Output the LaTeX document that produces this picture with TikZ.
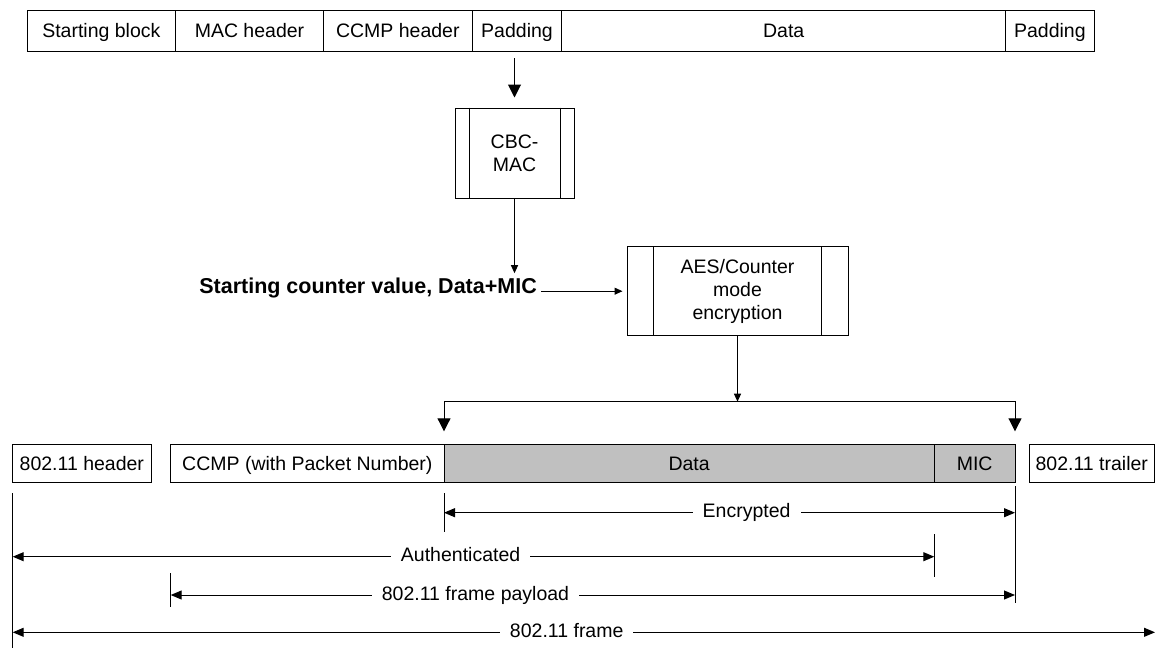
\documentclass[tikz,border=0pt]{standalone}
\usepackage{fontspec}
\setmainfont{Liberation Sans}
\usetikzlibrary{arrows.meta}
\definecolor{grisclair}{RGB}{192,192,192}

\begin{document}
\begin{tikzpicture}[x=1pt,y=-1pt]

% définition des styles
\tikzstyle{bloc}=[draw,rectangle,line width=1pt,inner sep=0pt,outer sep=0pt,anchor=west,minimum height=41pt,text height=14pt,text depth=0pt,font=\fontsize{19.5}{23}\selectfont]
\tikzstyle{case}=[bloc,minimum height=38pt]
\tikzstyle{processus}=[draw,rectangle,line width=1pt,align=center,font=\fontsize{19.5}{23}\selectfont]
\tikzstyle{fleche}=[-{Triangle[length=8pt,width=7pt]},line width=1pt]
\tikzstyle{grandefleche}=[-{Triangle[length=13pt,width=13pt]},line width=1pt]
\tikzstyle{cote}=[{Triangle[length=11pt,width=9pt]}-{Triangle[length=11pt,width=9pt]},line width=1pt]
\tikzstyle{rappel}=[line width=1pt]
\tikzstyle{etiquette}=[fill=white,inner xsep=10pt,inner ysep=2pt,text height=14pt,text depth=4pt,font=\fontsize{19.5}{23}\selectfont]

\useasboundingbox (0,0) rectangle (1156,648);

% la trame en clair
\node[bloc,minimum width=148.7pt] (debut) at (27,30.5) {Starting block};
\node[bloc,minimum width=147.6pt] (entete-mac) at (175.7,30.5) {MAC header};
\node[bloc,minimum width=149pt] (entete-ccmp) at (323.3,30.5) {CCMP header};
\node[bloc,minimum width=89.4pt] (bourrage) at (472.3,30.5) {Padding};
\node[bloc,minimum width=444pt] (clair) at (561.7,30.5) {Data};
\node[bloc,minimum width=88.3pt] (bourrage-fin) at (1005.7,30.5) {Padding};

% les traitements
\node[processus,minimum width=119pt,minimum height=90pt] (cbc) at (514.5,153) {CBC-\\MAC};
\draw[rappel] ([xshift=14.5pt]cbc.north west) -- ([xshift=14.5pt]cbc.south west);
\draw[rappel] ([xshift=-14.5pt]cbc.north east) -- ([xshift=-14.5pt]cbc.south east);

\node[processus,minimum width=221pt,minimum height=89pt] (aes) at (737.5,291.2) {AES/Counter\\mode\\encryption};
\draw[rappel] ([xshift=27pt]aes.north west) -- ([xshift=27pt]aes.south west);
\draw[rappel] ([xshift=-27pt]aes.north east) -- ([xshift=-27pt]aes.south east);

\node[font=\fontsize{21.5}{25}\selectfont\bfseries,anchor=base east,inner sep=4pt] (compteur) at (541,293) {Starting counter value, Data+MIC};

% la trame chiffrée
\node[case,minimum width=138.3pt] (entete) at (12.7,463.3) {802.11 header};
\node[case,minimum width=273.3pt] (ccmp) at (170.7,463.3) {CCMP (with Packet Number)};
\node[case,fill=grisclair,minimum width=490.3pt] (donnees) at (444,463.3) {Data};
\node[case,fill=grisclair,minimum width=80.7pt] (mic) at (934.3,463.3) {MIC};
\node[case,minimum width=125pt] (queue) at (1029.3,463.3) {802.11 trailer};

% les flèches
\draw[grandefleche,shorten <=7pt,shorten >=10pt] (bourrage.south -| cbc.north) -- (cbc.north);
\draw[fleche] (cbc.south) -- (cbc.south |- compteur.north);
\draw[fleche,shorten >=4pt] (compteur.east |- aes.west) -- (aes.west);
\coordinate (jonction) at (737.5,401.7);
\draw[fleche] (aes.south) -- (jonction);
\draw[grandefleche,shorten >=13pt] (jonction) -| (donnees.north west);
\draw[grandefleche,shorten >=13pt] (jonction) -| (mic.north east);

% les lignes de rappel
\draw[rappel] ([yshift=-11pt]entete.south west) -- ([yshift=-166pt]entete.south west);
\draw[rappel] ([yshift=-11pt]donnees.south west) -- ([yshift=-50pt]donnees.south west);
\draw[rappel] ([yshift=-4pt]mic.south east) -- ([yshift=-121pt]mic.south east);
\draw[rappel] ([yshift=-52pt]mic.south west) -- ([yshift=-94.4pt]mic.south west);
\draw[rappel] ([yshift=-91pt]ccmp.south west) -- ([yshift=-124.4pt]ccmp.south west);

% les cotes
\coordinate (bord) at (1155,632.3);
\draw[cote] ([yshift=-30.4pt]donnees.south west) -- node[etiquette,pos=.53]{Encrypted} ([yshift=-30.4pt]mic.south east);
\draw[cote] ([yshift=-74.4pt]entete.south west) -- node[etiquette,pos=.486]{Authenticated} ([yshift=-74.4pt]mic.south west);
\draw[cote] ([yshift=-112.7pt]ccmp.south west) -- node[etiquette,pos=.361]{802.11 frame payload} ([yshift=-112.7pt]mic.south east);
\draw[cote] ([yshift=-150pt]entete.south west) -- node[etiquette,pos=.485]{802.11 frame} (bord);

\end{tikzpicture}
\end{document}
